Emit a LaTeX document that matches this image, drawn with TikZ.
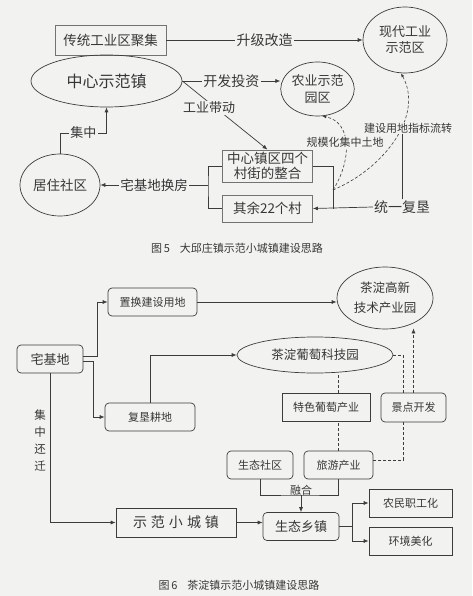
\documentclass[tikz,border=0pt]{standalone}
\usepackage{fontspec}
\setmainfont{Noto Sans CJK SC}
\usetikzlibrary{shapes.geometric,arrows.meta,calc}
\definecolor{bg}{RGB}{242,242,240}
\definecolor{ln}{RGB}{60,60,60}
\definecolor{bd5}{RGB}{115,115,115}
\definecolor{txt}{RGB}{55,55,55}
\newcommand{\fs}[2]{\fontsize{#1}{#2}\selectfont}
\tikzset{
 base/.style={inner sep=0pt, text=txt, align=center},
 box5/.style={base, draw=bd5, line width=0.8pt},
 ell/.style={base, ellipse, draw=ln, line width=0.7pt},
 rbox/.style={base, draw=ln, rounded corners=4pt, line width=0.7pt},
 rect/.style={base, draw=ln, line width=0.7pt},
 lbl/.style={inner sep=1.5pt, fill=bg, text=txt},
 arr/.style={draw=ln, line width=0.7pt, -{Latex[length=5pt,width=4pt]}},
 plain/.style={draw=ln, line width=0.7pt},
 dsh/.style={draw=ln, line width=0.6pt, dash pattern=on 3pt off 2pt},
 dsharr/.style={dsh, -{Latex[length=5pt,width=4pt]}},
}
\begin{document}
\begin{tikzpicture}[x=1pt,y=-1pt]
\fill[bg] (0,0) rectangle (472,596);
\useasboundingbox (0,0) rectangle (472,596);

% ---------- Figure 5 ----------
\node[box5, minimum width=111, minimum height=30, font=\fs{13.5}{15}] (trad) at (110.5,40) {传统工业区聚集};
\node[ell, minimum width=151, minimum height=52, font=\fs{16}{18}] (center) at (106.5,81) {中心示范镇};
\node[ell, minimum width=84, minimum height=66, font=\fs{13}{16}] (modern) at (405,40) {现代工业\\示范区};
\node[ell, minimum width=65, minimum height=54, font=\fs{13}{17}] (agri) at (317.5,89) {农业示范\\园区};
\node[box5, minimum width=90, minimum height=32, font=\fs{13.5}{14.5}] (four) at (267.5,166) {中心镇区四个\\村街的整合};
\node[box5, minimum width=90, minimum height=27, font=\fs{13.5}{15}] (rest) at (267.5,208.5) {其余22个村};
\node[ell, minimum width=80, minimum height=62, font=\fs{13.5}{15}] (res) at (60,185) {居住社区};

\draw[arr] (trad.east) -- node[lbl, font=\fs{14}{16}]{升级改造} (modern.west);
\draw[arr] (center.east) -- node[lbl, font=\fs{14}{16}]{开发投资} (agri.west|-center.east);
\draw[arr] (center.east) -- (four.north);
\node[lbl, font=\fs{13}{15}] (gydd) at (209,108) {工业带动};

\coordinate (lb) at (208,185);
\draw[plain] (four.west) -| (lb) |- (rest.west);
\draw[arr] (lb) -- node[lbl, font=\fs{13.5}{15}]{宅基地换房} (res.east);

\coordinate (jc) at (0,133);
\draw[arr] (res.north) -- (res.north|-jc) -- node[lbl, font=\fs{13}{15}]{集中} (center.south|-jc) -- (center.south);

\node[text=txt, inner sep=1pt, font=\fs{14}{16}] (fk5) at (402,207) {统一复垦};
\coordinate (rbb) at (333,208.5);
\draw[plain] (four.east) -| (rbb);
\draw[arr] (fk5.west) -- (rest.east);

\coordinate (dc) at (333,190);
\draw[dsh, -{Latex[length=4pt,width=3pt]}] (dc) .. controls (352,160) and (352,122) .. (agri.-80);
\draw[dsh, -{Latex[length=4pt,width=3pt]}] (dc) .. controls (385,168) and (424,115) .. (modern.-97);
\node[lbl, inner sep=1pt, font=\fs{11}{13}] (gmh) at (345,142) {规模化集中土地};
\node[lbl, inner sep=1pt, font=\fs{11}{13}] (jsyd) at (408,128) {建设用地指标流转};
\draw[plain] (fk5.north) -- (fk5.north|-jsyd.south);

\node[text=txt, font=\fs{11}{13}] (cap5) at (237,248) {图\,5\hspace{10pt}大邱庄镇示范小城镇建设思路};

% ---------- Figure 6 ----------
\node[rbox, minimum width=66, minimum height=28, font=\fs{13}{15}] (zjd) at (50,359) {宅基地};
\node[rbox, minimum width=89, minimum height=28, font=\fs{11}{13}] (zh) at (152.5,302) {置换建设用地};
\node[rbox, minimum width=90, minimum height=28, font=\fs{11}{13}] (fk) at (150,417) {复垦耕地};
\node[ell, minimum width=96, minimum height=62, font=\fs{12.5}{20}] (gx) at (385,298) {茶淀高新\\技术产业园};
\node[ell, minimum width=156, minimum height=36, font=\fs{12.5}{14}] (pt) at (315,355) {茶淀葡萄科技园};
\node[rect, minimum width=88, minimum height=28, font=\fs{11}{13}] (ts) at (326,407) {特色葡萄产业};
\node[rbox, minimum width=65, minimum height=29, font=\fs{11}{13}] (jd) at (413.5,407.5) {景点开发};
\node[rbox, minimum width=66, minimum height=28, font=\fs{11}{13}] (sq) at (260,465) {生态社区};
\node[rbox, minimum width=69, minimum height=28, font=\fs{11}{13}] (ly) at (338.5,465) {旅游产业};
\node[rect, minimum width=120, minimum height=29, font=\fs{14}{16}] (sf) at (176,522.5) {示\hspace{4pt}范\hspace{4pt}小\hspace{4pt}城\hspace{4pt}镇};
\node[rbox, minimum width=76, minimum height=28, font=\fs{13}{15}] (sx) at (301,526.5) {生态乡镇};
\node[rect, minimum width=83, minimum height=28, font=\fs{11}{13}] (nm) at (410.5,503) {农民职工化};
\node[rect, minimum width=83, minimum height=28, font=\fs{11}{13}] (hj) at (410.5,541) {环境美化};

\draw[arr] ([yshift=3pt]zjd.east) -- ++(14,0) |- (zh.west);
\draw[arr] ([yshift=-2pt]zjd.east) -- ++(10,0) |- (fk.west);
\draw[arr] (zh.east) -- (gx.west|-zh.east);
\draw[arr] (fk.north) |- (pt.west);

\draw[dsh] (ly.north|-ts.north) -- (ly.north|-pt.south);
\draw[dsh] (ly.north) -- (ly.north|-ts.south);
\draw[dsh] (pt.east) -| ([xshift=-10pt]jd.north);
\draw[dsh] ([xshift=-10pt]jd.south) |- ([yshift=5pt]ly.east);
\draw[dsharr] (jd.north) -- ($(jd.north|-gx.south)+(0,-1)$);

\coordinate (mg) at (301,495);
\draw[plain] (sq.south) |- (mg) -| (ly.south);
\node[text=txt, inner sep=0.5pt, anchor=south, font=\fs{11}{13}] (rh) at (301,496) {融合};
\draw[arr] (mg) -- (sx.north);

\draw[arr] (zjd.south) |- (sf.west);
\node[text=txt, align=center, inner sep=0pt, font=\fs{11.5}{17}] (jzhq) at (40,441) {集\\中\\还\\迁};
\draw[arr] (sf.east) -- (sx.west|-sf.east);
\draw[plain] (sx.east) -- ++(13,0) coordinate (br);
\draw[arr] (br) |- (nm.west);
\draw[arr] (br) |- (hj.west);

\node[text=txt, font=\fs{11}{13}] (cap6) at (239,585) {图\,6\hspace{10pt}茶淀镇示范小城镇建设思路};
\end{tikzpicture}
\end{document}
